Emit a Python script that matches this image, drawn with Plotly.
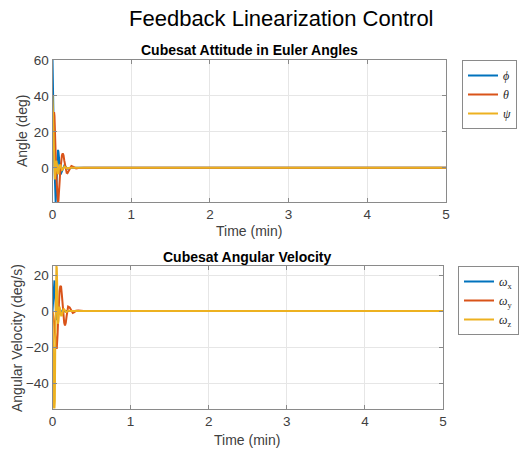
import plotly.graph_objects as go

# ---------------- data ----------------
time_min = [0, 0.005, 0.01, 0.015, 0.02, 0.025, 0.03, 0.035, 0.04, 0.045, 0.05, 0.055,
            0.06, 0.065, 0.07, 0.075, 0.08, 0.085, 0.09, 0.10, 0.11, 0.12, 0.13, 0.14,
            0.15, 0.16, 0.17, 0.18, 0.19, 0.20, 0.22, 0.24, 0.26, 0.28, 0.30, 0.33,
            0.36, 0.40, 0.5, 1.0, 2.0, 3.0, 4.0, 5.0]

phi = [60, 52, 38, 22, 8, -3, -11, -17, -19, -15, -8, -1,
       5, 8.5, 10, 9, 6, 3, 0.5, -2.5, -3, -2, -0.5, 0.8,
       1.2, 0.8, 0.2, -0.3, -0.5, -0.4, 0, 0.2, 0.1, 0, -0.05, 0,
       0, 0, 0, 0, 0, 0, 0, 0]

theta = [20, 24, 28, 30.5, 31, 29, 24, 17, 9, 1, -6, -12,
         -16, -18.5, -19, -18.5, -16, -12, -8, -1, 4, 7, 8, 7,
         4, 1, -1.5, -2.8, -3, -2.2, 0, 1, 0.6, 0, -0.3, -0.1,
         0.1, 0, 0, 0, 0, 0, 0, 0]

psi = [40, 33, 22, 10, 0, -5, -6.5, -4, 0, 3, 4, 2.5,
       0, -2.5, -3.5, -3, -1.5, 0.5, 1.5, 1.5, -0.5, -1.2, -0.8, 0.3,
       0.7, 0.4, -0.1, -0.3, -0.2, 0, 0.1, 0, 0, 0, 0, 0,
       0, 0, 0, 0, 0, 0, 0, 0]

omega_x = [0, 5, 10, 14, 16.5, 17, 13, 6, 0, -4, -5, -3.5,
           -1, 1, 2.5, 3, 2, 0.8, -0.3, -1.2, -0.8, 0, 0.5, 0.4,
           0, -0.2, 0, 0, 0, 0, 0, 0, 0, 0, 0, 0,
           0, 0, 0, 0, 0, 0, 0, 0]

omega_y = [0, -1, -2, -4, -6, -9, -12, -15, -17.5, -19.5, -20.5, -20.5,
           -18, -13, -7, -1, 4, 8, 11, 14, 13.5, 9, 3, -2.5,
           -6.5, -8, -6.5, -3, 0.5, 2.5, 2, 0, -1, -0.6, 0.2, 0.3,
           0, 0, 0, 0, 0, 0, 0, 0]

omega_z = [0, -20, -45, -54, -54, -54, -50, -20, 10, 25, 25, 24,
           12, -2, -7, -6, -2, 1.5, 2.5, 0.5, -2.5, -2.5, -0.5, 1,
           1, 0, -0.5, -0.5, 0, 0.3, 0, 0, 0, 0, 0, 0,
           0, 0, 0, 0, 0, 0, 0, 0]

att_names = ["<i>ϕ</i>", "<i>θ</i>", "<i>ψ</i>"]
vel_names = ["<i>ω</i><sub>x</sub>", "<i>ω</i><sub>y</sub>", "<i>ω</i><sub>z</sub>"]
x_ticks = [0, 1, 2, 3, 4, 5]
att_ticks = [0, 20, 40, 60]
vel_ticks = [-40, -20, 0, 20]
att_range = [-19, 60]
vel_range = [-54, 25]

# ---------------- style ----------------
WIN_W, WIN_H = 527, 455
OFF = 8  # default page body margin
W, H = WIN_W - OFF, WIN_H - OFF
colors = ["#0072BD", "#D95319", "#EDB120"]
FONT = "Liberation Sans, Arial, Helvetica, sans-serif"
TICK_COLOR = "#404040"

fig = go.Figure()
for name, ys, c in zip(att_names, [phi, theta, psi], colors):
    fig.add_trace(go.Scatter(x=time_min, y=ys, mode="lines", name=name,
                             line=dict(color=c, width=2), xaxis="x", yaxis="y",
                             legend="legend"))
for name, ys, c in zip(vel_names, [omega_x, omega_y, omega_z], colors):
    fig.add_trace(go.Scatter(x=time_min, y=ys, mode="lines", name=name,
                             line=dict(color=c, width=2), xaxis="x2", yaxis="y2",
                             legend="legend2"))

def px(x):
    return (x - OFF) / W

def py(y):
    return (WIN_H - y) / H

axis_common = dict(showline=True, linecolor="#8a8a8a", linewidth=1, mirror="ticks",
                   showgrid=True, gridcolor="#e6e6e6", gridwidth=1,
                   ticks="inside", ticklen=4, tickcolor="#8a8a8a",
                   zeroline=False, automargin=False,
                   tickfont=dict(family=FONT, size=13.5, color=TICK_COLOR))

legend_common = dict(xanchor="left", yanchor="top",
                     bgcolor="white", bordercolor="#8a8a8a", borderwidth=1,
                     font=dict(family="Liberation Serif, serif", size=12, color="#262626"),
                     tracegroupgap=0, itemwidth=30)

fig.update_layout(
    width=W, height=H,
    margin=dict(l=0, r=0, t=0, b=0),
    paper_bgcolor="white", plot_bgcolor="white",
    font=dict(family=FONT),
    xaxis=dict(domain=[px(52.5), px(446)], range=[0, 5], tickvals=x_ticks,
               anchor="y", **axis_common),
    yaxis=dict(domain=[py(202), py(60)], range=att_range, tickvals=att_ticks,
               anchor="x", **axis_common),
    xaxis2=dict(domain=[px(52.5), px(443)], range=[0, 5], tickvals=x_ticks,
                anchor="y2", **axis_common),
    yaxis2=dict(domain=[py(408.5), py(266)], range=vel_range, tickvals=vel_ticks,
                anchor="x2", **axis_common),
    legend=dict(x=px(462), y=py(60), **legend_common),
    legend2=dict(x=px(458), y=py(266), **legend_common),
    showlegend=True,
)

annotations = [
    dict(text="Feedback Linearization Control", x=px(281), y=py(18),
         font=dict(size=22, color="#000000")),
    dict(text="<b>Cubesat Attitude in Euler Angles</b>", x=px(249), y=py(50),
         font=dict(size=14, color="#000000")),
    dict(text="<b>Cubesat Angular Velocity</b>", x=px(247), y=py(257),
         font=dict(size=14, color="#000000")),
    dict(text="Time (min)", x=px(249), y=py(231),
         font=dict(size=14, color=TICK_COLOR)),
    dict(text="Time (min)", x=px(247), y=py(440),
         font=dict(size=14, color=TICK_COLOR)),
    dict(text="Angle (deg)", x=px(22), y=py(131), textangle=-90,
         font=dict(size=14, color=TICK_COLOR)),
    dict(text="Angular Velocity (deg/s)", x=px(17), y=py(338), textangle=-90,
         font=dict(size=14, color=TICK_COLOR)),
]
for a in annotations:
    a.update(xref="paper", yref="paper", xanchor="center", yanchor="middle",
             showarrow=False)
    a["font"]["family"] = FONT
fig.update_layout(annotations=annotations)

fig.write_html("out.html")
